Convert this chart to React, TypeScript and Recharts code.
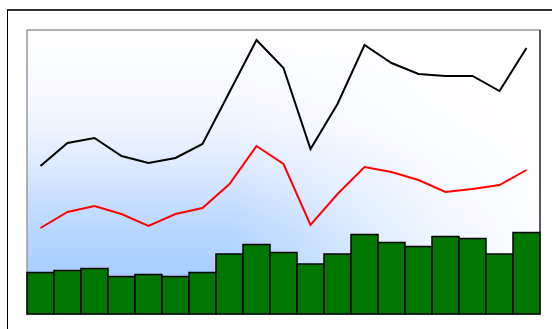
import React from "react";
import { ComposedChart, Bar, Line, XAxis, YAxis, CartesianGrid, ReferenceArea, ReferenceLine } from "recharts";

const categories = ["1","2","3","4","5","6","7","8","9","10","11","12","13","14","15","16","17","18","19"];
const barValues = [41.5, 43.5, 45.5, 37.5, 39.5, 37.5, 41.5, 60, 69.5, 61.5, 50, 60, 79.5, 71.5, 67.5, 77.5, 75.5, 60, 81.5];
const blackValues = [148, 171, 176, 158, 151, 156, 170, 222, 274, 246, 165, 210, 269, 251, 240, 238, 238, 223, 266];
const redValues = [86, 102, 108, 100, 88, 100, 106, 130, 168, 150, 89, 120, 147, 142, 134, 122, 125, 129, 144];

const data = categories.map((c, i) => ({
  name: c,
  bar: barValues[i],
  black: blackValues[i],
  red: redValues[i],
}));

export default function App() {
  return (
    <div style={{ position: "absolute", left: 0, top: 0, width: 555, height: 329, overflow: "hidden" }}>
      <div
        style={{
          position: "absolute",
          left: 7,
          top: 9,
          width: 545,
          height: 330,
          borderTop: "2px solid #333",
          borderLeft: "1px solid #000",
          boxSizing: "border-box",
        }}
      />
      <div style={{ position: "absolute", left: 0, top: 0 }}>
        <ComposedChart
          width={555}
          height={329}
          data={data}
          margin={{ top: 30, right: 15, bottom: 15, left: 27 }}
          barCategoryGap={0}
          barGap={0}
        >
          <defs>
            <linearGradient id="vgrad" x1="0" y1="0" x2="0" y2="1">
              <stop offset="0" stopColor="#ffffff" />
              <stop offset="0.35" stopColor="#eef4ff" />
              <stop offset="0.53" stopColor="#d4e5ff" />
              <stop offset="0.7" stopColor="#b8d7ff" />
              <stop offset="0.85" stopColor="#a9cfff" />
              <stop offset="1" stopColor="#a0caff" />
            </linearGradient>
            <linearGradient id="hgrad" x1="0" y1="0" x2="1" y2="0">
              <stop offset="0" stopColor="#ffffff" stopOpacity={0} />
              <stop offset="0.4" stopColor="#ffffff" stopOpacity={0} />
              <stop offset="0.6" stopColor="#ffffff" stopOpacity={0.4} />
              <stop offset="0.8" stopColor="#ffffff" stopOpacity={0.78} />
              <stop offset="1" stopColor="#ffffff" stopOpacity={0.95} />
            </linearGradient>
            <pattern id="bgpat" patternUnits="objectBoundingBox" patternContentUnits="objectBoundingBox" width="1" height="1">
              <rect x="0" y="0" width="1" height="1" fill="url(#vgrad)" />
              <rect x="0" y="0" width="1" height="1" fill="url(#hgrad)" />
            </pattern>
          </defs>
          <CartesianGrid horizontal={false} vertical={false} fill="url(#bgpat)" />
          <XAxis dataKey="name" hide />
          <YAxis hide domain={[0, 284]} />
          <ReferenceArea y1={0} y2={284} fill="none" stroke="#999" strokeWidth={1.5} ifOverflow="visible" />
          <ReferenceLine x={categories[categories.length - 1]} position="end" stroke="#222" strokeWidth={1.2} ifOverflow="visible" />
          <Bar dataKey="bar" fill="#007700" stroke="#000" strokeWidth={1.5} isAnimationActive={false} />
          <Line dataKey="black" stroke="#000" strokeWidth={2} dot={false} activeDot={false} isAnimationActive={false} />
          <Line dataKey="red" stroke="#ff0000" strokeWidth={2} dot={false} activeDot={false} isAnimationActive={false} />
        </ComposedChart>
      </div>
    </div>
  );
}
